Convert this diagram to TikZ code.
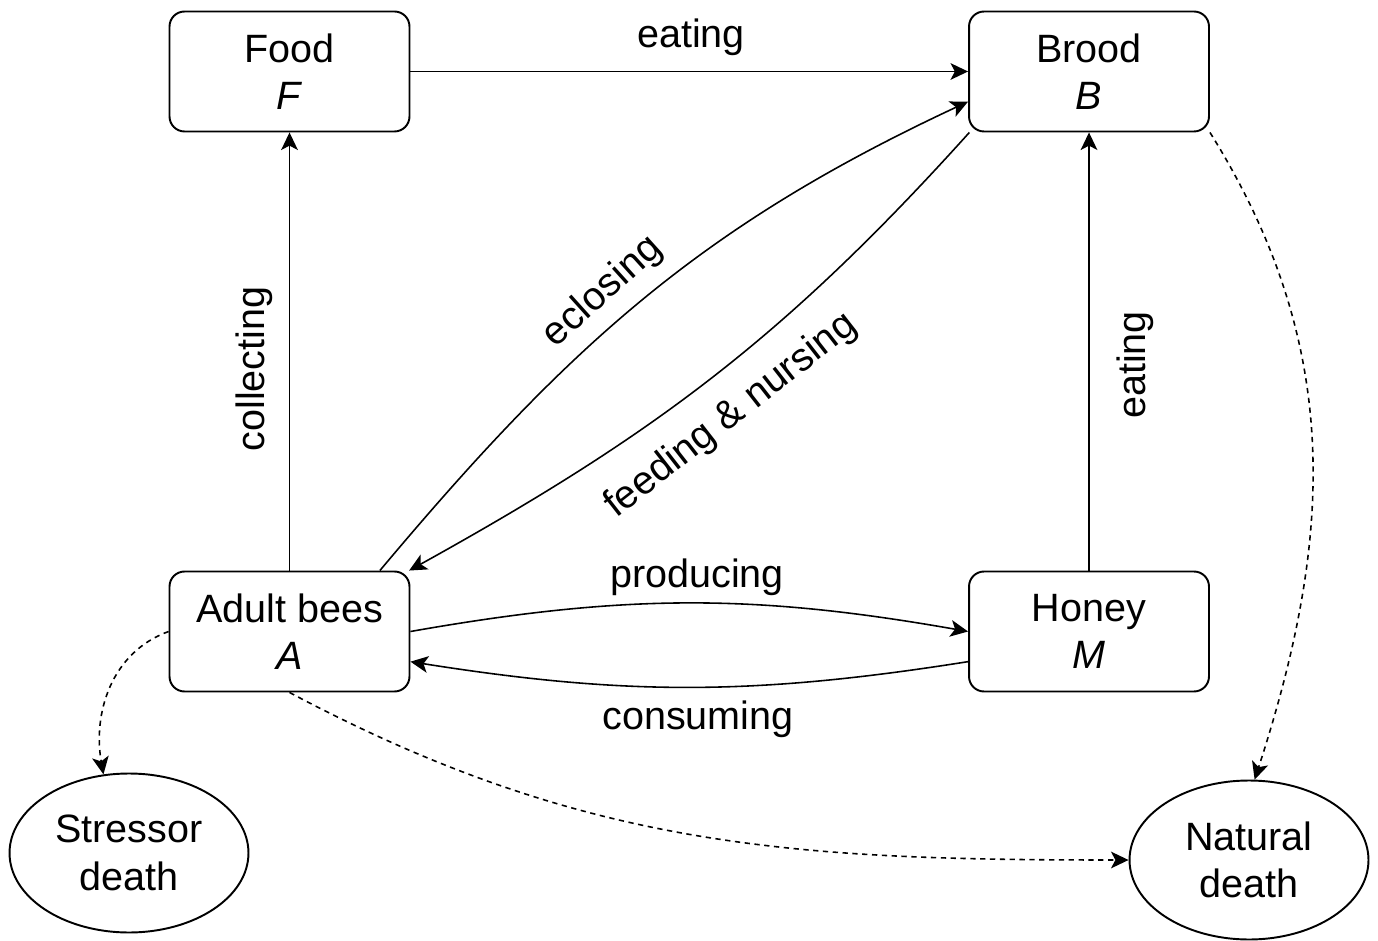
\documentclass[tikz,border=0pt]{standalone}
\usepackage{fontspec}
\setmainfont{Liberation Sans}
\usetikzlibrary{arrows.meta,shapes.geometric}

\begin{document}
\begin{tikzpicture}[x=0.02cm,y=0.02cm,
		every node/.style={font=\fontsize{22.5}{27}\selectfont},
		box/.style={draw,line width=1.1pt,rounded corners=0.3cm,minimum width=4.8cm,minimum height=2.4cm,align=center},
		sink/.style={draw,line width=1.1pt,ellipse,minimum width=4.78cm,minimum height=3.18cm,align=center},
		lbl/.style={inner sep=0pt},
		arr/.style={line width=0.9pt,-{Stealth[length=10pt,width=9.5pt,inset=2.5pt]}},
		arrd/.style={arr,dash pattern=on 3pt off 2.6pt}]
		\useasboundingbox (0,0) rectangle (1378,940);
		
		\node[box] (F) at (289.5,868.5) {Food\\\textit{F}};
		\node[box] (B) at (1089,868.5) {Brood\\\textit{B}};
		\node[box] (A) at (289.5,308.5) {Adult bees\\\textit{A}};
		\node[box] (M) at (1089,308.5) {Honey\\\textit{M}};
		\node[sink] (S) at (129,87) {Stressor\\death};
		\node[sink] (N) at (1249,80) {Natural\\death};
		
		\draw[arr] (F) -- (B);
		\draw[arr] (A) -- (F);
		\draw[arr] (M) -- (B);
		\draw[arr] (A.34) to[out=50,in=205] (B.194);
		\draw[arr] (B.207) to[out=228,in=29] (A.27);
		\draw[arr] (A.east) to[bend left=10] (M.west);
		\draw[arr] (M.194) to[bend left=9] (A.-14);
		
		\draw[arrd] (A.west) to[out=200,in=100] (S.108);
		\draw[arrd] (A.south) to[out=-28,in=180] (N.west);
		\draw[arrd] (B.south east) to[out=-58,in=72] (N.86);
		
		\node[lbl] (lEatF) at (691,903) {eating};
		\node[lbl,rotate=90] (lColl) at (254,571) {collecting};
		\node[lbl,rotate=90] (lEatM) at (1135,575) {eating};
		\node[lbl,rotate=42] (lEcl) at (603,648) {eclosing};
		\node[lbl,rotate=38] (lFeed) at (731,524) {feeding \& nursing};
		\node[lbl] (lProd) at (697,363) {producing};
		\node[lbl] (lCons) at (698,221) {consuming};
\end{tikzpicture}
\end{document}
